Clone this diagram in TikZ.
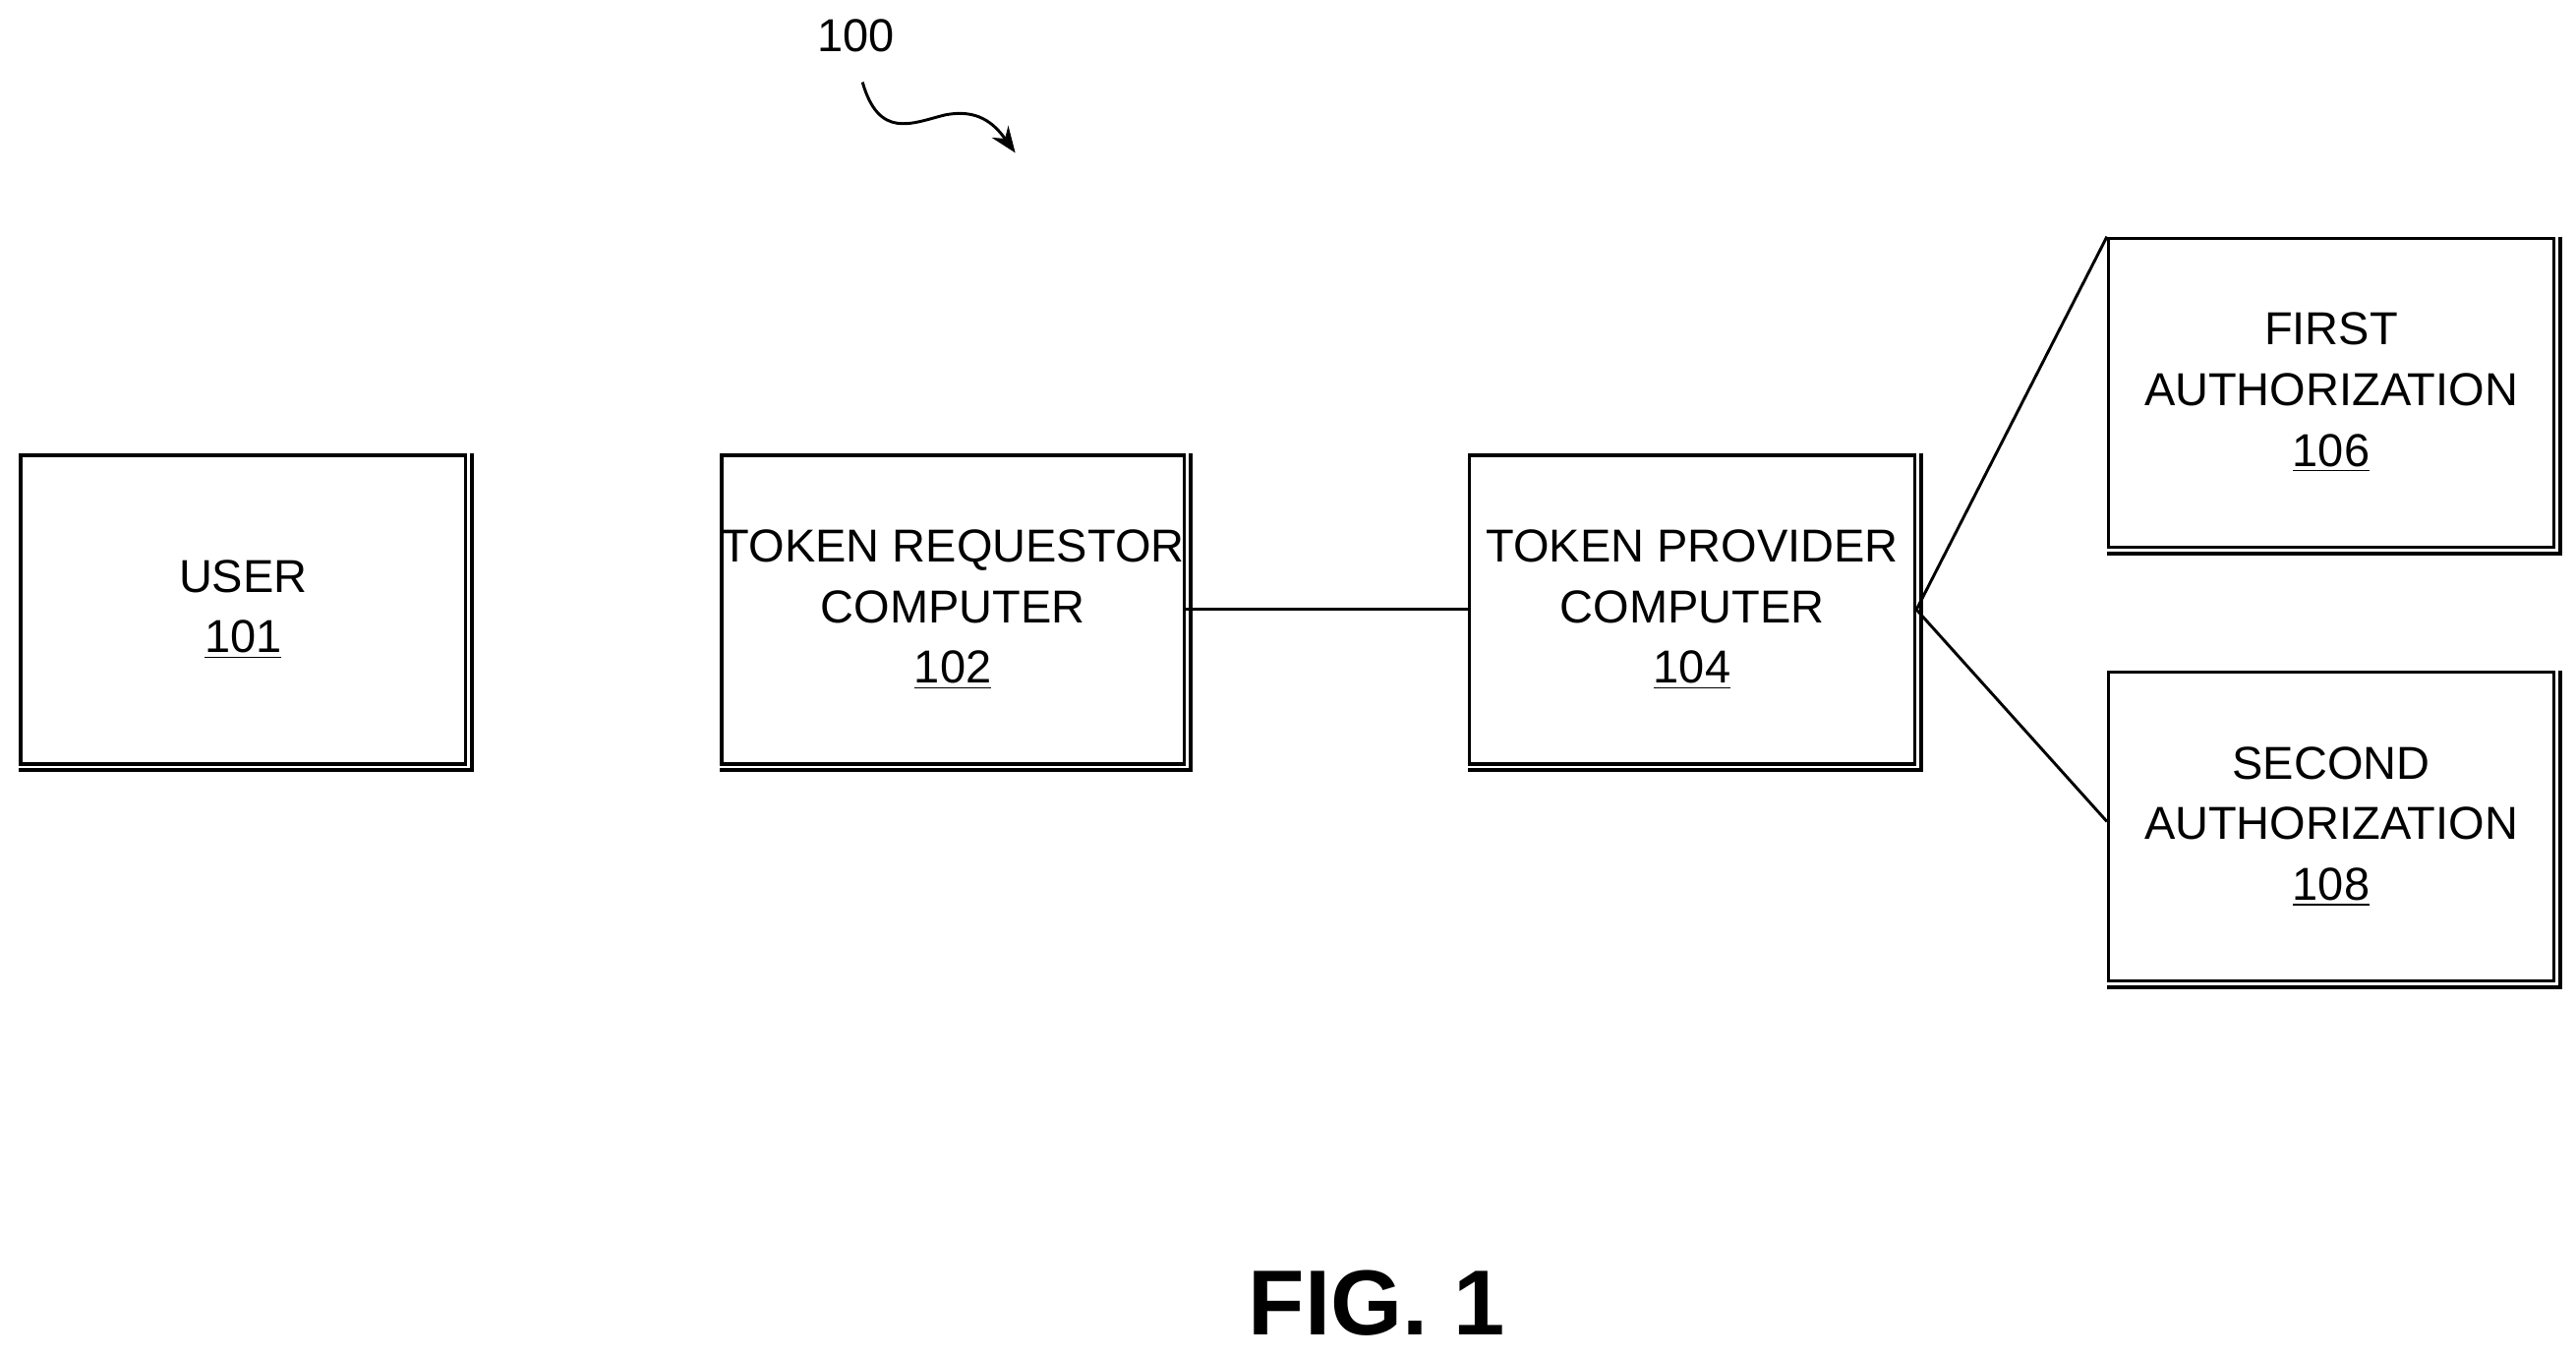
\documentclass[tikz,border=0pt]{standalone}
\usepackage{fontspec}
\setmainfont{Liberation Sans}
\usetikzlibrary{positioning,arrows.meta}
\tikzset{
  blk/.style={draw, line width=1.2pt, minimum width=5.42cm, minimum height=3.76cm,
    align=center, font=\fontsize{16}{21}\selectfont, inner sep=0pt},
  link/.style={line width=1pt}
}
\begin{document}
\begin{tikzpicture}[x=0.02cm, y=-0.02cm]
\useasboundingbox (0,0) rectangle (1568,826);
%boxes
\node[blk] (user) at (148,371) {USER\\\underline{101}};
\node[blk] (req) at (580,371) {TOKEN REQUESTOR\\COMPUTER\\\underline{102}};
\node[blk] (prov) at (1030,371) {TOKEN PROVIDER\\COMPUTER\\\underline{104}};
\node[blk] (auth1) at (1419,239) {FIRST\\AUTHORIZATION\\\underline{106}};
\node[blk] (auth2) at (1419,503) {SECOND\\AUTHORIZATION\\\underline{108}};
%shadow edges
\foreach \b in {user,req,prov,auth1,auth2}
  \draw[line width=1.4pt] ([xshift=1.5pt]\b.north east) -- ([xshift=1.5pt,yshift=-1.5pt]\b.south east) -- ([yshift=-1.5pt]\b.south west);
%connectors
\draw[link] (req.east) -- (prov.east -| prov.west);
\draw[link] (prov.east) -- ([yshift=1.9cm]auth1.west);
\draw[link] (prov.east) -- ([yshift=0.06cm]auth2.west);
\draw[link] ([yshift=1.9cm]auth1.west) -- ([yshift=1.9cm]auth1.west);
%reference label
\node[font=\fontsize{16}{19}\selectfont] (ref) at (521,22) {100};
\coordinate (tip) at (618,93);
\draw[link, -{Stealth[length=9pt,width=7pt]}] (525,50) .. controls (535,85) and (555,75) .. (575,70) .. controls (595,66) and (605,75) .. (tip);
\node[font=\bfseries\fontsize{32}{36}\selectfont] (fig) at (838,793) {FIG. 1};
\end{tikzpicture}
\end{document}
